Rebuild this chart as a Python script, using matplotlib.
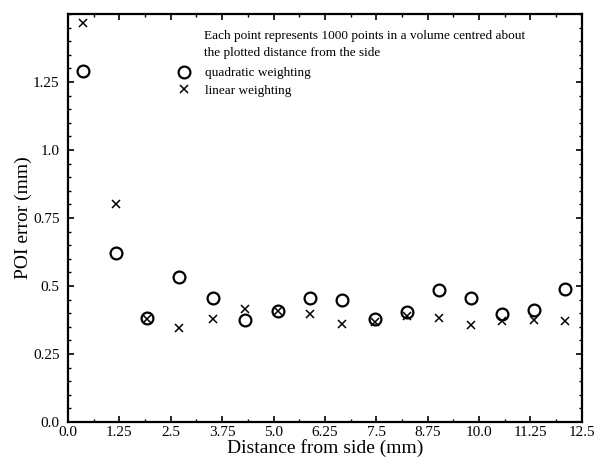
import numpy as np
import matplotlib
matplotlib.use('Agg')
import matplotlib.pyplot as plt
from matplotlib.ticker import MultipleLocator, FixedLocator, FixedFormatter

# distance from side (mm) of each sample volume
distance = [0.37, 1.17, 1.93, 2.70, 3.52, 4.31, 5.10, 5.89, 6.67,
            7.47, 8.24, 9.03, 9.80, 10.56, 11.33, 12.09]
quadratic = [1.29, 0.622, 0.381, 0.533, 0.455, 0.374, 0.407, 0.455, 0.448,
             0.378, 0.403, 0.485, 0.455, 0.396, 0.41, 0.49]
linear = [1.467, 0.80, 0.378, 0.344, 0.378, 0.415, 0.407, 0.396, 0.359,
          0.366, 0.389, 0.381, 0.356, 0.37, 0.374, 0.37]

xticks = [0.0, 1.25, 2.5, 3.75, 5.0, 6.25, 7.5, 8.75, 10.0, 11.25, 12.5]
xticklabels = ['0.0', '1.25', '2.5', '3.75', '5.0', '6.25', '7.5', '8.75', '10.0', '11.25', '12.5']
yticks = [0.0, 0.25, 0.5, 0.75, 1.0, 1.25]
yticklabels = ['0.0', '0.25', '0.5', '0.75', '1.0', '1.25']

plt.rcParams['font.family'] = ['Liberation Serif', 'DejaVu Serif']

fig = plt.figure(figsize=(5.95, 4.58), dpi=100)
ax = fig.add_axes([0.1143, 0.0786, 0.8635, 0.8908])

ax.plot(distance, quadratic, linestyle='none', marker='o', markersize=8.5,
        markerfacecolor='none', markeredgecolor='black', markeredgewidth=1.6,
        label='quadratic weighting')
ax.plot(distance, linear, linestyle='none', marker='x', markersize=5.5,
        color='black', markeredgewidth=1.1, label='linear weighting')

ax.set_xlim(0, 12.5)
ax.set_ylim(0, 1.5)
ax.xaxis.set_major_locator(FixedLocator(xticks))
ax.xaxis.set_major_formatter(FixedFormatter(xticklabels))
ax.yaxis.set_major_locator(FixedLocator(yticks))
ax.yaxis.set_major_formatter(FixedFormatter(yticklabels))
ax.xaxis.set_minor_locator(MultipleLocator(0.625))
ax.yaxis.set_minor_locator(MultipleLocator(0.05))
ax.tick_params(which='both', direction='in', top=True, right=True, labelsize=11)
ax.tick_params(which='major', length=4, width=1.2, pad=3)
ax.tick_params(axis='y', which='major', pad=6)
ax.tick_params(which='minor', length=2, width=1.0)
for s in ax.spines.values():
    s.set_linewidth(1.6)

ax.set_xlabel('Distance from side (mm)', fontsize=14, labelpad=0)
ax.set_ylabel('POI error (mm)', fontsize=14, labelpad=1)

ax.text(0.265, 0.96, 'Each point represents 1000 points in a volume centred about\n'
        'the plotted distance from the side', transform=ax.transAxes,
        fontsize=9.5, va='top', ha='left', linespacing=1.5)
ax.legend(loc='upper left', bbox_to_anchor=(0.212, 0.87), frameon=False,
          fontsize=9.5, handlelength=1.0, handletextpad=1.1, labelspacing=0.4,
          borderpad=0.0, borderaxespad=0.0)

fig.savefig('out.png', dpi=100)
